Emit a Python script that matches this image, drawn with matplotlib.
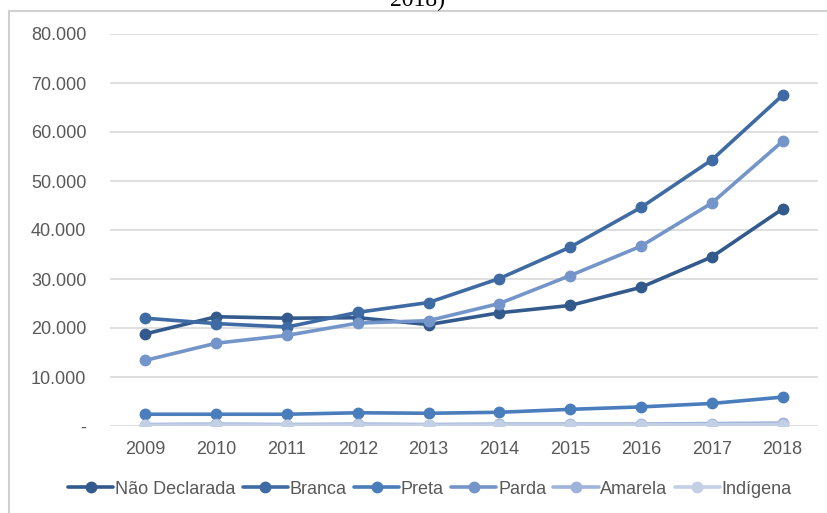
import matplotlib.pyplot as plt
from matplotlib.lines import Line2D
from matplotlib.ticker import FuncFormatter

plt.rcParams['font.family'] = ['Liberation Sans', 'DejaVu Sans']

anos = ['2009', '2010', '2011', '2012', '2013', '2014', '2015', '2016', '2017', '2018']

nao_declarada = [18800, 22300, 22000, 22100, 20700, 23100, 24600, 28300, 34500, 44300]
branca = [22000, 20900, 20200, 23200, 25200, 30100, 36500, 44600, 54300, 67500]
preta = [2400, 2400, 2400, 2700, 2600, 2800, 3400, 3900, 4600, 5900]
parda = [13400, 16900, 18500, 21000, 21500, 25000, 30700, 36700, 45500, 58100]
amarela = [300, 400, 300, 400, 300, 400, 400, 400, 500, 600]
indigena = [150, 200, 150, 200, 150, 200, 200, 200, 250, 300]

series = [
    ('Não Declarada', nao_declarada, '#335a8c'),
    ('Branca', branca, '#3e6ba3'),
    ('Preta', preta, '#4a7dbb'),
    ('Parda', parda, '#7395c9'),
    ('Amarela', amarela, '#9fb4da'),
    ('Indígena', indigena, '#c3cfe5'),
]

fig = plt.figure(figsize=(8.27, 5.13), dpi=100)
ax = fig.add_axes([110 / 827, 87 / 513, 708 / 827, 392 / 513])

x = list(range(len(anos)))
for nome, vals, cor in series:
    ax.plot(x, vals, color=cor, lw=2.6, marker='o', ms=7.5, label=nome,
            solid_capstyle='round')

ax.set_xlim(-0.5, 9.5)
ax.set_ylim(0, 80000)
ax.set_yticks(range(0, 80001, 10000))
ax.yaxis.set_major_formatter(FuncFormatter(
    lambda v, p: '-' if v == 0 else f'{int(v):,}'.replace(',', '.')))
ax.set_xticks(x)
ax.set_xticklabels(anos)
ax.tick_params(length=0, labelsize=13, colors='#595959')
ax.tick_params(axis='x', pad=11)
ax.tick_params(axis='y', pad=17)
ax.grid(axis='y', color='#d9d9d9', lw=1.2)
ax.set_axisbelow(True)
for s in ax.spines.values():
    s.set_visible(False)

ax.legend(loc='center', bbox_to_anchor=(430 / 827, 24 / 513), bbox_transform=fig.transFigure,
          ncol=6, frameon=False, fontsize=13, handlelength=2.5,
          handletextpad=0.1, columnspacing=0.4, labelcolor='#595959',
          borderaxespad=0, borderpad=0)

# moldura e resto do titulo cortado
fig.add_artist(Line2D([9 / 827, 9 / 827], [0, 1 - 11 / 513], color='#d0d0d0', lw=1.5))
fig.add_artist(Line2D([9 / 827, 1], [1 - 11 / 513, 1 - 11 / 513], color='#d0d0d0', lw=1.5))
fig.text(0.505, 1 - 6 / 513, '2018)', family='Liberation Serif', fontsize=17,
         ha='center', va='baseline', color='black')

fig.savefig('out.png', dpi=100)
